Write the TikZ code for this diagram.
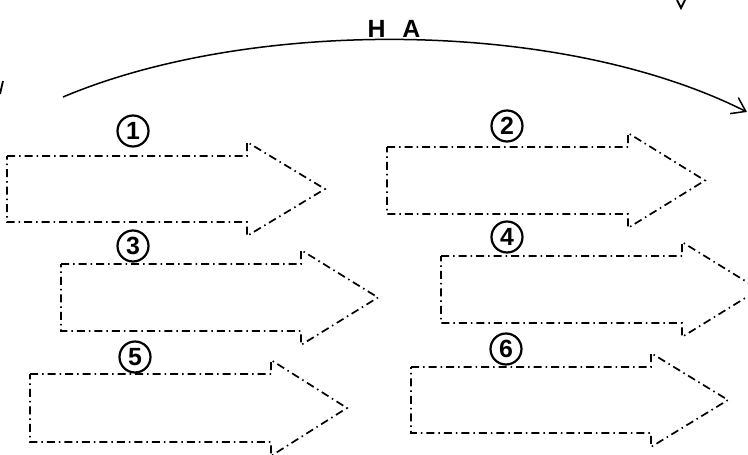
\documentclass[tikz,border=0pt]{standalone}
\usepackage{fontspec}
\setsansfont{Liberation Sans}
\usepackage{tikz}
\usetikzlibrary{arrows.meta}

\begin{document}
\begin{tikzpicture}[x=1pt,y=-1pt,
    flowbox/.style={line width=1.7pt, dash pattern=on 8pt off 4pt on 1.5pt off 4pt},
    stepno/.style={circle, draw, line width=2.2pt, minimum size=31pt, inner sep=0pt,
        font=\sffamily\bfseries\Huge},
    sweep/.style={line width=1.5pt, -{Straight Barb[length=13pt,width=18pt,line width=1.5pt]}}]
            \useasboundingbox (0,0) rectangle (748,455);

            % cut-off marks at the edges
            \draw[line width=1.8pt] (0,94) -- (3,81);
            \draw[line width=1.8pt] (677,0) -- (681,8) -- (685,0);

            % top sweep
            \coordinate (from) at (63,97);
            \coordinate (to) at (747,112);
            \draw[sweep] (from) .. controls (250,18) and (560,18) .. (to);
            \node[font=\sffamily\bfseries\Huge] (ha) at (394,29) {H\hspace{17pt}A};

            % block arrows
            \draw[flowbox] (7,156) -- (247,156) -- (247,142) -- (325,189) -- (247,236) -- (247,222) -- (7,222) -- cycle;
            \draw[flowbox] (387,147) -- (628,147) -- (628,133) -- (705,180.5) -- (628,228) -- (628,214) -- (387,214) -- cycle;
            \draw[flowbox] (61,264) -- (301,264) -- (301,250) -- (378,297.5) -- (301,345) -- (301,331) -- (61,331) -- cycle;
            \draw[flowbox] (441,256) -- (682,256) -- (682,242) -- (759,289.5) -- (682,337) -- (682,323) -- (441,323) -- cycle;
            \draw[flowbox] (30,374) -- (271,374) -- (271,360) -- (347,408) -- (271,456) -- (271,442) -- (30,442) -- cycle;
            \draw[flowbox] (411,367) -- (651,367) -- (651,353) -- (728,400) -- (651,447) -- (651,433) -- (411,433) -- cycle;

            \node[stepno] (n1) at (133,131) {1};
            \node[stepno] (n2) at (507,126) {2};
            \node[stepno] (n3) at (133,246) {3};
            \node[stepno] (n4) at (507,237) {4};
            \node[stepno] (n5) at (135,357) {5};
            \node[stepno] (n6) at (506,349) {6};
\end{tikzpicture}
\end{document}
